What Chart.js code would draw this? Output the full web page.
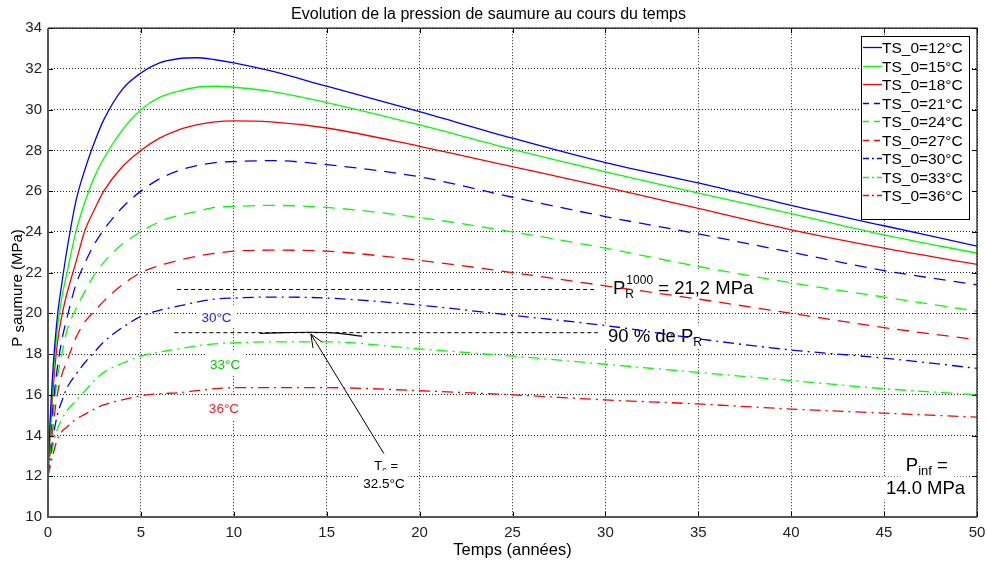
<!DOCTYPE html>
<html>
<head>
<meta charset="utf-8">
<script src="https://cdn.jsdelivr.net/npm/chart.js@4/dist/chart.umd.min.js"></script>
<style>
  html, body { margin: 0; padding: 0; background: #fff; }
  #wrap { width: 987px; height: 568px; }
</style>
</head>
<body>
<div id="wrap"><canvas id="graph"></canvas></div>
<script>
// time axis (years) shared by all series
const years = [0, 0.1, 0.25, 0.5, 0.75, 1, 1.5, 2, 2.5, 3, 4, 5, 6, 7, 8, 9, 10, 12, 15, 20, 25, 30, 35, 40, 45, 50];

// brine pressure (MPa) per initial temperature
const ts12 = [12, 14.5, 17, 19.8, 21.5, 23, 25.5, 27.1, 28.4, 29.5, 31.0, 31.8, 32.3, 32.5, 32.55, 32.45, 32.3, 31.9, 31.15, 29.9, 28.6, 27.4, 26.4, 25.3, 24.3, 23.3];
const ts15 = [12, 14, 16.5, 19.2, 20.8, 21.9, 24.0, 25.5, 26.7, 27.6, 29.0, 30.0, 30.6, 30.9, 31.1, 31.15, 31.1, 30.9, 30.35, 29.25, 28.05, 26.95, 25.9, 24.9, 23.85, 22.95];
const ts18 = [12, 13.8, 16, 18.5, 19.9, 20.9, 22.5, 24.1, 25.1, 26.0, 27.2, 28.0, 28.6, 29.0, 29.25, 29.4, 29.45, 29.4, 29.1, 28.2, 27.2, 26.2, 25.15, 24.1, 23.2, 22.4];
const ts21 = [12, 13.5, 15.3, 17.3, 18.7, 19.7, 21.4, 22.5, 23.4, 24.1, 25.2, 26.0, 26.6, 27.0, 27.25, 27.4, 27.45, 27.5, 27.3, 26.7, 25.7, 24.75, 23.9, 23.0, 22.1, 21.4];
const ts24 = [12, 13.2, 14.8, 16.8, 18.0, 19.1, 20.2, 21.1, 21.9, 22.5, 23.4, 24.0, 24.5, 24.8, 25.0, 25.2, 25.25, 25.3, 25.2, 24.7, 24.0, 23.2, 22.3, 21.5, 20.8, 20.1];
const ts27 = [12, 13.0, 14.3, 16.0, 17.0, 17.6, 18.8, 19.6, 20.1, 20.6, 21.4, 22.0, 22.35, 22.6, 22.8, 22.95, 23.05, 23.1, 23.05, 22.6, 22.0, 21.35, 20.7, 20.0, 19.3, 18.7];
const ts30 = [12, 12.8, 13.8, 15.0, 15.7, 16.3, 17.0, 17.6, 18.1, 18.6, 19.3, 19.85, 20.15, 20.35, 20.55, 20.7, 20.75, 20.8, 20.75, 20.4, 19.9, 19.4, 18.75, 18.2, 17.8, 17.3];
const ts33 = [12, 12.6, 13.4, 14.3, 14.8, 15.2, 15.7, 16.2, 16.7, 17.1, 17.55, 17.9, 18.1, 18.25, 18.4, 18.5, 18.55, 18.6, 18.6, 18.25, 17.9, 17.5, 17.1, 16.7, 16.3, 16.0];
const ts36 = [12, 12.4, 13.0, 13.8, 14.2, 14.4, 14.8, 15.05, 15.3, 15.5, 15.75, 15.95, 16.05, 16.1, 16.2, 16.3, 16.35, 16.35, 16.35, 16.2, 16.0, 15.75, 15.55, 15.3, 15.1, 14.9];

const labels = ['TS_0=12°C', 'TS_0=15°C', 'TS_0=18°C', 'TS_0=21°C', 'TS_0=24°C', 'TS_0=27°C', 'TS_0=30°C', 'TS_0=33°C', 'TS_0=36°C'];

// reference lines: P_R(1000) and 90 % of it
const prYears = [6.95, 29.5];
const prVals = [21.17, 21.17];
const p90Years = [6.8, 29.6];
const p90Vals = [19.05, 19.05];

// critical temperature curve (Tc = 32.5°C)
const tcYears = [11.4, 12.7, 14.1, 15.5, 16.9];
const tcVals = [19.01, 19.05, 19.07, 19.03, 18.88];

// x and y ticks
const xTicks = [0, 5, 10, 15, 20, 25, 30, 35, 40, 45, 50];
const yTicks = [10, 12, 14, 16, 18, 20, 22, 24, 26, 28, 30, 32, 34];

const series = [ts12, ts15, ts18, ts21, ts24, ts27, ts30, ts33, ts36];
const colors = ['#0000ff', '#00ff00', '#ff0000'];
const dashes = [[], [12, 8], [11, 5, 2, 5]];
const legendDashes = [[], [6, 5], [6, 3, 2, 3]];

const pts = (xs, ys) => xs.map((x, i) => ({ x: x, y: ys[i] }));

const datasets = series.map((s, i) => ({
  label: labels[i],
  data: pts(years, s),
  borderColor: colors[i % 3],
  borderWidth: 1.3,
  borderDash: dashes[Math.floor(i / 3)],
  cubicInterpolationMode: 'monotone',
  pointRadius: 0,
  fill: false
}));

const refStyle = { borderColor: '#000', borderWidth: 1, borderDash: [4, 3], pointRadius: 0, fill: false };
datasets.push(Object.assign({ label: 'PR', data: pts(prYears, prVals) }, refStyle));
datasets.push(Object.assign({ label: '90', data: pts(p90Years, p90Vals) }, refStyle));
datasets.push({ label: 'Tc', data: pts(tcYears, tcVals), borderColor: '#000', borderWidth: 1.2,
  cubicInterpolationMode: 'monotone', pointRadius: 0, fill: false });

// annotation texts, in data coordinates
const notes = [
  { x: 9.07, y: 19.58, color: '#1a1aff', parts: [['30°C', 13.5, 0]], align: 'center' },
  { x: 9.53, y: 17.29, color: '#00c800', parts: [['33°C', 13.5, 0]], align: 'center' },
  { x: 9.47, y: 15.11, color: '#ff1a1a', parts: [['36°C', 13.5, 0]], align: 'center' },
  { x: 18.2, y: 12.33, color: '#000', parts: [['T', 13, 0], ['c', 9, 3], [' =', 13, 0]], align: 'center' },
  { x: 18.08, y: 11.44, color: '#000', parts: [['32.5°C', 13.5, 0]], align: 'center' },
  { x: 47.3, y: 12.26, color: '#000', parts: [['P', 18.5, 0], ['inf', 13, 4], [' =', 18.5, 0]], align: 'center' },
  { x: 47.23, y: 11.15, color: '#000', parts: [['14.0 MPa', 18.5, 0]], align: 'center' },
  { x: 30.14, y: 18.58, color: '#000', parts: [['90 % de P', 18.5, 0], ['R', 12, 4]], align: 'left' }
];

const arrowFrom = [18.08, 13.11];
const arrowTo = [14.15, 18.98];

const FONT = '"Liberation Sans", Arial, sans-serif';

function drawParts(ctx, parts, x, y, align, color) {
  let w = 0;
  parts.forEach(p => { ctx.font = p[1] + 'px ' + FONT; w += ctx.measureText(p[0]).width; });
  let sx = align === 'center' ? x - w / 2 : x;
  ctx.fillStyle = '#fff';
  ctx.fillRect(sx - 4, y - 17, w + 8, 23);
  ctx.fillStyle = color;
  ctx.textBaseline = 'alphabetic';
  ctx.textAlign = 'left';
  parts.forEach(p => {
    ctx.font = p[1] + 'px ' + FONT;
    ctx.fillText(p[0], sx, y + p[2]);
    sx += ctx.measureText(p[0]).width;
  });
}

const extras = {
  id: 'extras',
  beforeDatasetsDraw(chart) {
    const { ctx, scales: { x, y } } = chart;
    ctx.save();
    notes.forEach(n => drawParts(ctx, n.parts, x.getPixelForValue(n.x), y.getPixelForValue(n.y), n.align, n.color));

    // P_R^1000 label (sub + sup stacked)
    const px = x.getPixelForValue(30.41), py = y.getPixelForValue(20.94);
    ctx.fillStyle = '#fff';
    ctx.fillRect(px - 6, py - 24, 156, 32);
    ctx.fillStyle = '#000';
    ctx.textAlign = 'left';
    ctx.font = '18.5px ' + FONT;
    ctx.fillText('P', px, py);
    const pw = ctx.measureText('P').width;
    ctx.font = '12px ' + FONT;
    ctx.fillText('R', px + pw, py + 4);
    ctx.fillText('1000', px + pw + 1, py - 10);
    const sw = ctx.measureText('1000').width;
    ctx.font = '18.5px ' + FONT;
    ctx.fillText(' = 21,2 MPa', px + pw + 1 + sw, py);

    // arrow
    const ax0 = x.getPixelForValue(arrowFrom[0]), ay0 = y.getPixelForValue(arrowFrom[1]);
    const ax1 = x.getPixelForValue(arrowTo[0]), ay1 = y.getPixelForValue(arrowTo[1]);
    ctx.strokeStyle = '#000';
    ctx.lineWidth = 1;
    ctx.beginPath();
    ctx.moveTo(ax0, ay0);
    ctx.lineTo(ax1, ay1);
    const ang = Math.atan2(ay1 - ay0, ax1 - ax0);
    [0.4, -0.4].forEach(d => {
      ctx.moveTo(ax1, ay1);
      ctx.lineTo(ax1 - 14 * Math.cos(ang + d), ay1 - 14 * Math.sin(ang + d));
    });
    ctx.stroke();
    ctx.restore();
  },
  afterDraw(chart) {
    const { ctx, chartArea: a, scales: { x, y } } = chart;
    ctx.save();
    // inward tick marks
    ctx.strokeStyle = '#000';
    ctx.lineWidth = 1;
    ctx.beginPath();
    xTicks.forEach(v => {
      const p = Math.round(x.getPixelForValue(v)) + 0.5;
      ctx.moveTo(p, a.top); ctx.lineTo(p, a.top + 5);
      ctx.moveTo(p, a.bottom); ctx.lineTo(p, a.bottom - 5);
    });
    yTicks.forEach(v => {
      const p = Math.round(y.getPixelForValue(v)) + 0.5;
      ctx.moveTo(a.right, p); ctx.lineTo(a.right - 5, p);
      ctx.moveTo(a.left, p); ctx.lineTo(a.left + 5, p);
    });
    ctx.stroke();
    // frame
    ctx.strokeStyle = '#111';
    ctx.lineWidth = 1.2;
    ctx.beginPath();
    ctx.moveTo(a.left, a.top); ctx.lineTo(a.right, a.top); ctx.lineTo(a.right, a.bottom);
    ctx.stroke();
    ctx.strokeStyle = '#555';
    ctx.lineWidth = 2;
    ctx.beginPath();
    ctx.moveTo(a.left, a.top); ctx.lineTo(a.left, a.bottom); ctx.lineTo(a.right, a.bottom);
    ctx.stroke();

    // legend box
    const lx = 861, ly = 36, lw = 108, lh = 183;
    ctx.fillStyle = '#fff';
    ctx.fillRect(lx, ly, lw, lh);
    ctx.strokeStyle = '#000';
    ctx.lineWidth = 1;
    ctx.strokeRect(lx + 0.5, ly + 0.5, lw, lh);
    ctx.font = '15.5px ' + FONT;
    ctx.textBaseline = 'middle';
    ctx.textAlign = 'left';
    labels.forEach((t, i) => {
      const ry = Math.round(ly + 11 + i * 18.55) + 0.5;
      ctx.strokeStyle = colors[i % 3];
      ctx.lineWidth = 1.3;
      ctx.setLineDash(legendDashes[Math.floor(i / 3)]);
      ctx.beginPath();
      ctx.moveTo(lx + 2, ry); ctx.lineTo(lx + 21, ry);
      ctx.stroke();
      ctx.setLineDash([]);
      ctx.fillStyle = '#000';
      ctx.fillText(t, lx + 21, ry + 1);
    });

    // y axis title with subscript s
    ctx.translate(18, 288);
    ctx.rotate(-Math.PI / 2);
    ctx.fillStyle = '#000';
    ctx.textBaseline = 'middle';
    const parts = [['P', 15, 0], [' s', 15, 2], ['aumure (MPa)', 15, 0]];
    let w = 0;
    parts.forEach(p => { ctx.font = p[1] + 'px ' + FONT; w += ctx.measureText(p[0]).width; });
    let sx = -w / 2;
    parts.forEach(p => {
      ctx.font = p[1] + 'px ' + FONT;
      ctx.fillText(p[0], sx, p[2]);
      sx += ctx.measureText(p[0]).width;
    });
    ctx.restore();
  }
};

new Chart(document.getElementById('graph').getContext('2d'), {
  type: 'line',
  data: { datasets: datasets },
  plugins: [extras],
  options: {
    responsive: true,
    maintainAspectRatio: false,
    animation: false,
    layout: { padding: { left: 0, right: 10, top: 0, bottom: 0 } },
    scales: {
      x: {
        type: 'linear',
        min: 0,
        max: 50,
        afterFit: s => { s.height = 51; s.paddingLeft = 0; s.paddingRight = 0; },
        afterBuildTicks: s => { s.ticks = xTicks.map(v => ({ value: v })); },
        ticks: { padding: 7, color: '#222', font: { family: FONT, size: 15 } },
        grid: { color: '#222', lineWidth: 1, drawTicks: false },
        border: { display: false, dash: [1, 2] },
        title: { display: true, text: 'Temps (années)', color: '#000', font: { family: FONT, size: 16.5 }, padding: { top: 0, bottom: 8 } }
      },
      y: {
        min: 10,
        max: 34,
        afterFit: s => { s.width = 48; s.paddingTop = 0; s.paddingBottom = 0; },
        afterBuildTicks: s => { s.ticks = yTicks.map(v => ({ value: v })); },
        ticks: { padding: 6, color: '#222', font: { family: FONT, size: 15 } },
        grid: { color: '#222', lineWidth: 1, drawTicks: false },
        border: { display: false, dash: [1, 2] }
      }
    },
    plugins: {
      legend: { display: false },
      tooltip: { enabled: false },
      title: {
        display: true,
        text: 'Evolution de la pression de saumure au cours du temps',
        color: '#000',
        font: { family: FONT, size: 16, weight: 'normal' },
        padding: { top: 5, bottom: 4 }
      }
    }
  }
});
</script>
</body>
</html>
